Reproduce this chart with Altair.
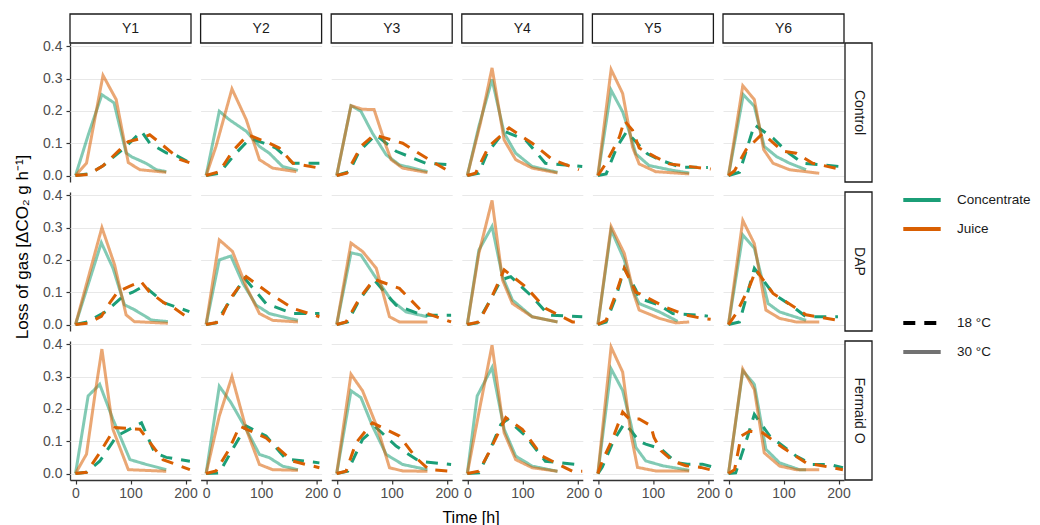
import altair as alt
import pandas as pd

STRAINS = ["Y1", "Y2", "Y3", "Y4", "Y5", "Y6"]
TREATMENTS = ["Control", "DAP", "Fermaid O"]
TREAT_KEYS = ["ctrl", "dap", "ferm"]
MEDIA = ["Concentrate", "Juice"]
MEDIA_KEYS = ["conc", "juice"]
MEDIA_COLORS = ["#1B9E77", "#D95F02"]
TEMPS = ["18 °C", "30 °C"]
TEMP_KEYS = ["18", "30"]
X_TICKS = [0, 100, 200]
Y_TICKS = [0.0, 0.1, 0.2, 0.3, 0.4]

# ---- Control ----
ctrl_y1_conc30 = [(0, 0), (24, 0.13), (48, 0.25), (70, 0.225), (92, 0.07), (102, 0.058), (128, 0.038), (147, 0.018), (165, 0.012)]
ctrl_y1_juice30 = [(0, 0), (20, 0.038), (50, 0.31), (74, 0.235), (96, 0.04), (117, 0.018), (165, 0.01)]
ctrl_y1_conc18 = [(0, 0), (26, 0.006), (50, 0.03), (92, 0.09), (120, 0.137), (135, 0.1), (165, 0.07), (180, 0.065), (207, 0.04)]
ctrl_y1_juice18 = [(0, 0), (23, 0.003), (50, 0.03), (96, 0.105), (120, 0.115), (135, 0.126), (147, 0.11), (190, 0.05), (207, 0.04)]
ctrl_y2_conc30 = [(0, 0), (24, 0.199), (42, 0.173), (73, 0.137), (97, 0.09), (115, 0.069), (139, 0.028), (167, 0.016)]
ctrl_y2_juice30 = [(0, 0), (18, 0.09), (47, 0.268), (73, 0.173), (97, 0.049), (121, 0.023), (164, 0.012)]
ctrl_y2_conc18 = [(0, 0), (24, 0.007), (52, 0.065), (80, 0.115), (105, 0.1), (127, 0.085), (158, 0.038), (206, 0.038)]
ctrl_y2_juice18 = [(0, 0), (24, 0.012), (48, 0.075), (76, 0.126), (115, 0.1), (133, 0.085), (158, 0.038), (206, 0.023)]
ctrl_y3_conc30 = [(0, 0), (26, 0.216), (44, 0.199), (65, 0.131), (90, 0.064), (114, 0.033), (165, 0.012)]
ctrl_y3_juice30 = [(0, 0), (26, 0.216), (47, 0.205), (68, 0.204), (90, 0.09), (99, 0.049), (120, 0.023), (165, 0.009)]
ctrl_y3_conc18 = [(0, 0), (23, 0.012), (41, 0.075), (71, 0.126), (108, 0.075), (162, 0.038), (208, 0.033)]
ctrl_y3_juice18 = [(0, 0), (18, 0.007), (44, 0.09), (68, 0.126), (120, 0.1), (168, 0.049), (205, 0.012)]
ctrl_y4_conc30 = [(0, 0), (21, 0.152), (45, 0.297), (67, 0.131), (88, 0.069), (118, 0.028), (164, 0.01)]
ctrl_y4_juice30 = [(0, 0), (24, 0.163), (45, 0.333), (67, 0.11), (88, 0.049), (118, 0.023), (164, 0.008)]
ctrl_y4_conc18 = [(0, 0), (21, 0.007), (36, 0.069), (67, 0.137), (106, 0.11), (142, 0.038), (209, 0.028)]
ctrl_y4_juice18 = [(0, 0), (15, 0.007), (39, 0.09), (76, 0.147), (118, 0.1), (155, 0.049), (203, 0.018)]
ctrl_y5_conc30 = [(0, 0), (24, 0.264), (45, 0.197), (60, 0.12), (69, 0.067), (93, 0.031), (136, 0.016), (166, 0.008)]
ctrl_y5_juice30 = [(0, 0), (24, 0.328), (45, 0.254), (63, 0.088), (75, 0.036), (105, 0.012), (166, 0.005)]
ctrl_y5_conc18 = [(0, 0), (15, 0.005), (35, 0.09), (52, 0.135), (66, 0.11), (90, 0.067), (115, 0.047), (150, 0.026), (200, 0.025)]
ctrl_y5_juice18 = [(0, 0), (12, 0.031), (27, 0.078), (39, 0.119), (48, 0.17), (63, 0.14), (75, 0.085), (105, 0.057), (130, 0.036), (175, 0.026), (205, 0.02)]
ctrl_y6_conc30 = [(0, 0), (27, 0.25), (47, 0.214), (65, 0.09), (87, 0.059), (111, 0.038), (141, 0.018)]
ctrl_y6_juice30 = [(0, 0), (26, 0.278), (47, 0.235), (64, 0.08), (81, 0.038), (111, 0.018), (165, 0.007)]
ctrl_y6_conc18 = [(0, 0), (20, 0.01), (47, 0.157), (81, 0.116), (105, 0.075), (135, 0.038), (202, 0.028)]
ctrl_y6_juice18 = [(0, 0), (11, 0.015), (32, 0.08), (50, 0.11), (62, 0.13), (99, 0.075), (123, 0.069), (153, 0.038), (208, 0.018)]

# ---- DAP ----
dap_y1_conc30 = [(0, 0), (47, 0.253), (68, 0.175), (89, 0.061), (107, 0.046), (138, 0.014), (168, 0.009)]
dap_y1_juice30 = [(0, 0), (48, 0.3), (71, 0.185), (92, 0.03), (107, 0.009), (168, 0.004)]
dap_y1_conc18 = [(0, 0), (22, 0.008), (55, 0.04), (86, 0.087), (104, 0.1), (125, 0.12), (137, 0.102), (160, 0.068), (180, 0.056), (207, 0.04)]
dap_y1_juice18 = [(0, 0), (22, 0.004), (47, 0.025), (62, 0.066), (77, 0.102), (98, 0.118), (119, 0.133), (134, 0.102), (160, 0.068), (180, 0.05), (207, 0.018)]
dap_y2_conc30 = [(0, 0), (24, 0.2), (45, 0.212), (67, 0.127), (91, 0.06), (115, 0.034), (139, 0.024), (167, 0.013)]
dap_y2_juice30 = [(0, 0), (24, 0.262), (48, 0.226), (73, 0.117), (97, 0.034), (121, 0.013), (167, 0.008)]
dap_y2_conc18 = [(0, 0), (18, 0.005), (48, 0.086), (70, 0.143), (109, 0.065), (158, 0.034), (206, 0.034)]
dap_y2_juice18 = [(0, 0), (24, 0.008), (42, 0.075), (73, 0.148), (115, 0.096), (158, 0.05), (206, 0.024)]
dap_y3_conc30 = [(0, 0), (26, 0.222), (44, 0.215), (68, 0.153), (99, 0.076), (126, 0.039), (165, 0.024)]
dap_y3_juice30 = [(0, 0), (26, 0.252), (47, 0.226), (72, 0.174), (96, 0.024), (114, 0.008), (165, 0.008)]
dap_y3_conc18 = [(0, 0), (20, 0.008), (41, 0.076), (68, 0.138), (108, 0.06), (156, 0.029), (208, 0.029)]
dap_y3_juice18 = [(0, 0), (17, 0.008), (41, 0.08), (68, 0.14), (114, 0.112), (156, 0.039), (208, 0.008)]
dap_y4_conc30 = [(0, 0), (21, 0.23), (45, 0.303), (64, 0.148), (82, 0.076), (118, 0.024), (164, 0.008)]
dap_y4_juice30 = [(0, 0), (21, 0.22), (45, 0.384), (64, 0.138), (82, 0.065), (118, 0.024), (164, 0.008)]
dap_y4_conc18 = [(0, 0), (18, 0.005), (42, 0.076), (61, 0.138), (79, 0.148), (118, 0.086), (148, 0.029), (209, 0.024)]
dap_y4_juice18 = [(0, 0), (21, 0.008), (42, 0.076), (67, 0.169), (106, 0.117), (142, 0.05), (191, 0.008), (209, 0.008)]
dap_y5_conc30 = [(0, 0), (24, 0.293), (48, 0.2), (63, 0.107), (75, 0.065), (112, 0.039), (145, 0.01)]
dap_y5_juice30 = [(0, 0), (24, 0.303), (48, 0.22), (66, 0.091), (75, 0.045), (112, 0.019), (142, 0.005), (166, 0.008)]
dap_y5_conc18 = [(0, 0), (15, 0.008), (33, 0.086), (48, 0.174), (69, 0.107), (75, 0.081), (112, 0.06), (136, 0.034), (184, 0.029), (200, 0.026)]
dap_y5_juice18 = [(0, 0), (15, 0.013), (33, 0.096), (48, 0.174), (69, 0.1), (75, 0.096), (121, 0.055), (160, 0.029), (190, 0.019), (205, 0.016)]
dap_y6_conc30 = [(0, 0), (26, 0.277), (47, 0.236), (72, 0.065), (93, 0.039), (141, 0.013)]
dap_y6_juice30 = [(0, 0), (26, 0.322), (47, 0.25), (68, 0.045), (93, 0.019), (123, 0.008), (165, 0.008)]
dap_y6_conc18 = [(0, 0), (20, 0.008), (47, 0.174), (81, 0.096), (117, 0.055), (141, 0.024), (199, 0.024)]
dap_y6_juice18 = [(0, 0), (14, 0.034), (38, 0.117), (50, 0.169), (81, 0.096), (123, 0.05), (141, 0.03), (199, 0.013)]

# ---- Fermaid O ----
ferm_y1_conc30 = [(0, 0), (23, 0.24), (44, 0.276), (68, 0.168), (99, 0.043), (129, 0.028), (165, 0.012)]
ferm_y1_juice30 = [(0, 0), (20, 0.06), (35, 0.24), (48, 0.385), (68, 0.137), (96, 0.012), (165, 0.007)]
ferm_y1_conc18 = [(0, 0), (20, 0.004), (44, 0.038), (75, 0.116), (120, 0.157), (144, 0.064), (165, 0.05), (208, 0.038)]
ferm_y1_juice18 = [(0, 0), (20, 0.004), (44, 0.064), (72, 0.142), (117, 0.137), (159, 0.043), (208, 0.012)]
ferm_y2_conc30 = [(0, 0), (24, 0.27), (45, 0.22), (73, 0.137), (97, 0.059), (115, 0.049), (139, 0.023), (167, 0.012)]
ferm_y2_juice30 = [(0, 0), (24, 0.178), (47, 0.3), (73, 0.137), (97, 0.028), (121, 0.012), (167, 0.01)]
ferm_y2_conc18 = [(0, 0), (24, 0.002), (48, 0.075), (73, 0.147), (109, 0.116), (145, 0.045), (206, 0.033)]
ferm_y2_juice18 = [(0, 0), (18, 0.008), (42, 0.075), (61, 0.147), (109, 0.11), (158, 0.038), (206, 0.018)]
ferm_y3_conc30 = [(0, 0), (26, 0.256), (44, 0.235), (65, 0.147), (90, 0.059), (120, 0.028), (165, 0.012)]
ferm_y3_juice30 = [(0, 0), (26, 0.307), (47, 0.256), (75, 0.137), (96, 0.018), (120, 0.008), (165, 0.007)]
ferm_y3_conc18 = [(0, 0), (20, 0.007), (47, 0.106), (72, 0.142), (108, 0.085), (150, 0.038), (208, 0.028)]
ferm_y3_juice18 = [(0, 0), (17, 0.007), (35, 0.095), (65, 0.157), (114, 0.116), (144, 0.049), (168, 0.012), (208, 0.007)]
ferm_y4_conc30 = [(0, 0), (18, 0.24), (45, 0.328), (67, 0.137), (88, 0.054), (118, 0.023), (164, 0.007)]
ferm_y4_juice30 = [(0, 0), (21, 0.188), (45, 0.397), (67, 0.126), (88, 0.043), (118, 0.018), (164, 0.007)]
ferm_y4_conc18 = [(0, 0), (21, 0.002), (39, 0.064), (61, 0.152), (73, 0.168), (106, 0.116), (142, 0.038), (197, 0.028), (209, 0.022)]
ferm_y4_juice18 = [(0, 0), (21, 0.007), (39, 0.064), (70, 0.173), (100, 0.137), (136, 0.054), (191, 0.007), (209, 0.007)]
ferm_y5_conc30 = [(0, 0), (24, 0.324), (45, 0.257), (60, 0.153), (69, 0.081), (87, 0.039), (118, 0.024), (166, 0.01)]
ferm_y5_juice30 = [(0, 0), (24, 0.391), (45, 0.314), (60, 0.122), (72, 0.019), (105, 0.008), (166, 0.008)]
ferm_y5_conc18 = [(0, 0), (8, 0.02), (28, 0.1), (48, 0.155), (60, 0.133), (75, 0.1), (87, 0.091), (115, 0.076), (142, 0.034), (163, 0.029), (190, 0.029), (208, 0.021)]
ferm_y5_juice18 = [(0, 0), (8, 0.039), (21, 0.086), (30, 0.122), (45, 0.19), (57, 0.169), (75, 0.169), (96, 0.148), (102, 0.112), (115, 0.07), (136, 0.039), (160, 0.024), (187, 0.019), (208, 0.01)]
ferm_y6_conc30 = [(0, 0), (26, 0.318), (47, 0.276), (68, 0.075), (93, 0.033), (129, 0.012), (141, 0.012)]
ferm_y6_juice30 = [(0, 0), (26, 0.323), (47, 0.26), (65, 0.064), (93, 0.023), (123, 0.012), (165, 0.012)]
ferm_y6_conc18 = [(0, 0), (13, 0.002), (35, 0.116), (47, 0.183), (75, 0.116), (123, 0.054), (153, 0.028), (184, 0.028), (208, 0.018)]
ferm_y6_juice18 = [(0, 0), (11, 0.012), (23, 0.116), (38, 0.131), (62, 0.126), (99, 0.08), (141, 0.033), (208, 0.012)]

# ---- assemble long table from the named lists ----
records = []
for trt, tk in zip(TREATMENTS, TREAT_KEYS):
    for s in STRAINS:
        for med, mk in zip(MEDIA, MEDIA_KEYS):
            for temp, tpk in zip(TEMPS, TEMP_KEYS):
                pts = globals()[f"{tk}_{s.lower()}_{mk}{tpk}"]
                for t, v in pts:
                    records.append({"kind": "line", "Treatment": trt, "Strain": s,
                                    "Medium": med, "Temp": temp, "time": t, "value": v,
                                    "label": ""})
for s in STRAINS:
    records.append({"kind": "top", "Treatment": TREATMENTS[0], "Strain": s, "label": s})
for trt in TREATMENTS:
    records.append({"kind": "right", "Treatment": trt, "Strain": STRAINS[-1], "label": trt})
df = pd.DataFrame(records)

W, H = 121, 139
FONT = "Liberation Sans"

x_enc = alt.X("time:Q", scale=alt.Scale(domain=[-10, 210], nice=False, zero=False),
              axis=alt.Axis(values=X_TICKS, title=None, grid=False, format="d",
                            labelPadding=2, labelFontSize=14))
y_enc = alt.Y("value:Q", scale=alt.Scale(domain=[-0.02, 0.41], nice=False, zero=False),
              axis=alt.Axis(values=Y_TICKS, title=None, format=".1f", grid=True,
                            labelPadding=4, labelFontSize=14))

temp_legend = alt.Legend(title=None, orient="none", legendX=831, legendY=259,
                         symbolType="stroke", symbolSize=1400, symbolStrokeWidth=4,
                         symbolStrokeColor="black", labelFontSize=13.5, labelOffset=14,
                         rowPadding=-8, labelColor="#1a1a1a")
color_legend = alt.Legend(title=None, orient="none", legendX=831, legendY=136,
                          symbolType="stroke", symbolSize=1400, symbolStrokeWidth=4,
                          labelFontSize=13.5, labelOffset=14, rowPadding=-8,
                          labelColor="#1a1a1a")

base = alt.Chart(df)

lines = base.transform_filter("datum.kind == 'line'").mark_line(strokeWidth=3).encode(
    x=x_enc,
    y=y_enc,
    color=alt.Color("Medium:N", scale=alt.Scale(domain=MEDIA, range=MEDIA_COLORS), legend=color_legend),
    strokeDash=alt.StrokeDash("Temp:N", scale=alt.Scale(domain=TEMPS, range=[[12, 9], [1, 0]]), legend=temp_legend),
    opacity=alt.Opacity("Temp:N", scale=alt.Scale(domain=TEMPS, range=[1.0, 0.55]), legend=temp_legend),
)

top_box = base.transform_filter("datum.kind == 'top'").mark_rect(
    fill="white", stroke="#1a1a1a", strokeWidth=1.3).encode(
    x=alt.value(0), x2=alt.value(W), y=alt.value(-29), y2=alt.value(0))
top_txt = base.transform_filter("datum.kind == 'top'").mark_text(
    fontSize=14, color="#1a1a1a", font=FONT).encode(
    x=alt.value(W / 2), y=alt.value(-14.5), text="label:N")
right_box = base.transform_filter("datum.kind == 'right'").mark_rect(
    fill="white", stroke="#1a1a1a", strokeWidth=1.3).encode(
    x=alt.value(W + 1), x2=alt.value(W + 28), y=alt.value(0), y2=alt.value(H))
right_txt = base.transform_filter("datum.kind == 'right'").mark_text(
    fontSize=14, color="#1a1a1a", font=FONT, angle=90).encode(
    x=alt.value(W + 14.5), y=alt.value(H / 2), text="label:N")

layer = alt.layer(lines, top_box, top_txt, right_box, right_txt).properties(width=W, height=H)

chart = layer.facet(
    row=alt.Row("Treatment:N", sort=TREATMENTS,
                header=alt.Header(labels=False, title="Loss of gas [ΔCO₂ g h⁻¹]",
                                  titleOrient="left", titleFontSize=17, titleFontWeight="normal",
                                  titleColor="#000000", titleFont=FONT, titlePadding=0)),
    column=alt.Column("Strain:N", sort=STRAINS,
                      header=alt.Header(labels=False, title="Time [h]", titleOrient="bottom",
                                        titleFontSize=16, titleFontWeight="normal",
                                        titleColor="#000000", titleFont=FONT, titlePadding=0)),
    spacing={"row": 10, "column": 9.6},
    bounds="flush",
).properties(
    padding={"left": 5, "top": 4, "right": 0, "bottom": 0}
).configure(
    font=FONT
).configure_view(
    stroke="transparent"
).configure_axis(
    labelFont=FONT, labelColor="#4d4d4d",
    domainColor="#333333", domainWidth=1.3, tickColor="#333333", tickWidth=1.2,
    tickSize=4, gridColor="#e8e8e8", gridWidth=1
)

chart.save("out.html", embed_options={"renderer": "svg", "actions": False})
